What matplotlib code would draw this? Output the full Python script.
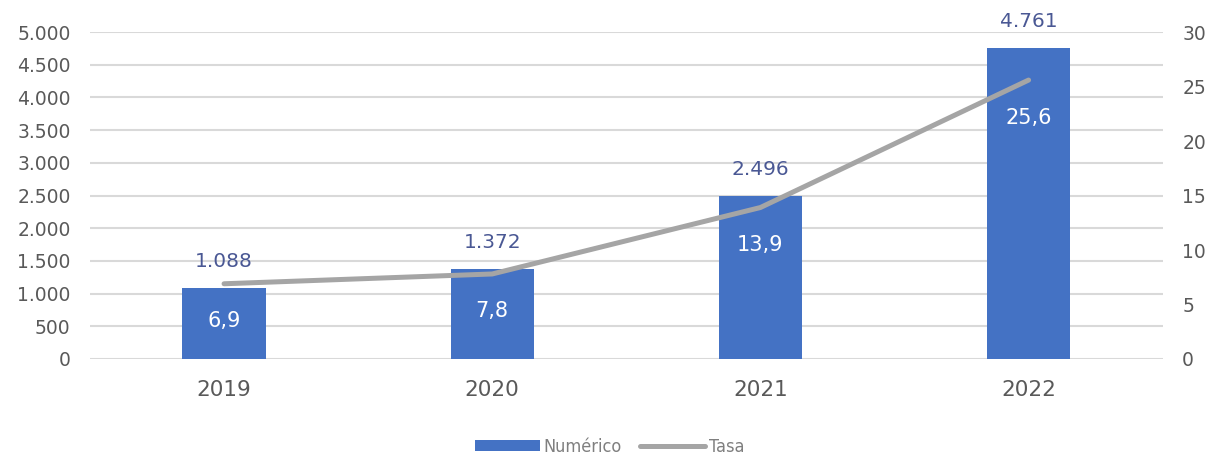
import matplotlib.pyplot as plt
import numpy as np
from matplotlib.ticker import FuncFormatter

# data
years = ["2019", "2020", "2021", "2022"]
numerico = [1088, 1372, 2496, 4761]
tasa = [6.9, 7.8, 13.9, 25.6]

bar_color = "#4472C4"
line_color = "#A5A5A5"
text_color = "#595959"
label_color = "#4A5894"

plt.rcParams["font.family"] = ["DejaVu Sans"]

fig = plt.figure(figsize=(12.19, 4.59), dpi=100)
ax = fig.add_axes([0.0738, 0.218, 0.880, 0.712])
ax2 = ax.twinx()

x = np.arange(len(years))
bars = ax.bar(x, numerico, width=0.31, color=bar_color, zorder=2, label="Numérico")
ax.set_ylim(0, 5000)
ax.set_yticks(np.arange(0, 5001, 500))
ax.yaxis.set_major_formatter(FuncFormatter(lambda v, p: "{:,.0f}".format(v).replace(",", ".")))
ax.grid(axis="y", color="#D9D9D9", linewidth=1.5, zorder=0)
ax.set_axisbelow(True)
ax.set_xlim(-0.5, len(years) - 0.5)
ax.set_xticks(x)
ax.set_xticklabels(years)

for xi, v in zip(x, numerico):
    ax.annotate("{:,}".format(v).replace(",", "."), (xi, v), xytext=(0, 19),
                textcoords="offset points", ha="center", va="center",
                fontsize=14.5, color=label_color)

line, = ax2.plot(x, tasa, color=line_color, linewidth=3.6, solid_capstyle="round",
                 zorder=3, label="Tasa")
ax2.set_ylim(0, 30)
ax2.set_yticks(np.arange(0, 31, 5))
for xi, v in zip(x, tasa):
    ax2.annotate("{:.1f}".format(v).replace(".", ","), (xi, v), xytext=(0, -27),
                 textcoords="offset points", ha="center", va="center",
                 fontsize=15, color="white")

for a in (ax, ax2):
    for s in a.spines.values():
        s.set_visible(False)
    a.tick_params(length=0, labelsize=13.5, colors=text_color)
ax.tick_params(axis="x", labelsize=15.5, pad=15)
ax.tick_params(axis="y", pad=14)
ax2.tick_params(axis="y", pad=14)

fig.legend([bars, line], ["Numérico", "Tasa"], loc="center",
           bbox_to_anchor=(0.5, 0.026), ncol=2, frameon=False,
           prop={"family": "DejaVu Sans", "stretch": "condensed", "size": 13},
           labelcolor="#7F7F7F", handlelength=3.6, handleheight=0.6,
           columnspacing=1.0, handletextpad=0.2)

fig.savefig("out.png", dpi=100)
